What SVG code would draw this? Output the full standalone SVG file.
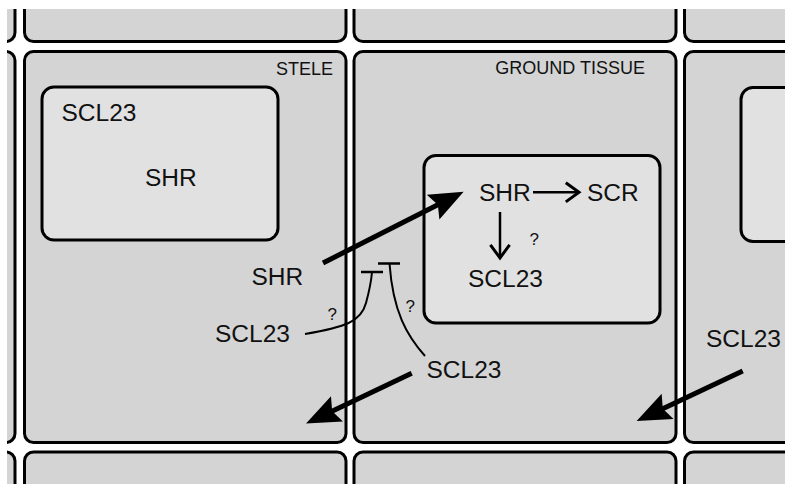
<svg xmlns="http://www.w3.org/2000/svg" width="785" height="487" viewBox="0 0 785 487">
  <style>
    .cell { fill: #d4d4d4; stroke: #000; stroke-width: 3; }
    .box { fill: #e1e1e1; stroke: #000; stroke-width: 3; }
    .lbl { font-family: "Liberation Sans", Arial, sans-serif; font-size: 24.5px; fill: #111; }
    .tissue { font-family: "Liberation Sans", Arial, sans-serif; font-size: 18px; fill: #111; text-anchor: end; }
    .q { font-family: "Liberation Sans", Arial, sans-serif; font-size: 17px; fill: #111; }
    .thick { stroke: #000; stroke-width: 5; fill: none; marker-end: url(#big); }
    .thin { stroke: #000; stroke-width: 2.5; fill: none; marker-end: url(#open); }
    .inhib { stroke: #000; stroke-width: 2; fill: none; }
    .bar { stroke: #000; stroke-width: 2.5; }
  </style>
  <defs>
    <clipPath id="frame"><rect x="7" y="9" width="778" height="475"/></clipPath>
    <marker id="big" markerUnits="userSpaceOnUse" markerWidth="40" markerHeight="30" viewBox="0 0 34 28" refX="22" refY="13" orient="auto">
      <path d="M0,0 L32,13 L0,26 L5,13 Z" fill="#000"/>
    </marker>
    <marker id="open" markerUnits="userSpaceOnUse" markerWidth="20" markerHeight="24" viewBox="-2 -2 16 20" refX="11" refY="8" orient="auto">
      <path d="M0,0 L11,8 L0,16" fill="none" stroke="#000" stroke-width="2.5"/>
    </marker>
  </defs>
  <rect width="785" height="487" fill="#fff"/>
  <g id="cells" clip-path="url(#frame)">
    <rect class="cell" x="-320" y="-300" width="335" height="341.5" rx="9"/>
    <rect class="cell" x="24.5" y="-300" width="321.5" height="341.5" rx="9"/>
    <rect class="cell" x="354" y="-300" width="322" height="341.5" rx="9"/>
    <rect class="cell" x="684.5" y="-300" width="322" height="341.5" rx="9"/>
    <rect class="cell" x="-320" y="51.5" width="335" height="391" rx="9"/>
    <rect id="stele" class="cell" x="24.5" y="51.5" width="321.5" height="391" rx="9"/>
    <rect id="ground-tissue" class="cell" x="354" y="51.5" width="322" height="391" rx="9"/>
    <rect class="cell" x="684.5" y="51.5" width="322" height="391" rx="9"/>
    <rect class="cell" x="-320" y="452" width="335" height="300" rx="9"/>
    <rect class="cell" x="24.5" y="452" width="321.5" height="300" rx="9"/>
    <rect class="cell" x="354" y="452" width="322" height="300" rx="9"/>
    <rect class="cell" x="684.5" y="452" width="322" height="300" rx="9"/>
    <rect id="right-box" class="box" x="741" y="87.5" width="120" height="154" rx="12"/>
  </g>
  <g id="stele-label"><text class="tissue" x="333" y="75">STELE</text></g>
  <g id="ground-label"><text class="tissue" x="645" y="74">GROUND TISSUE</text></g>
  <g id="stele-box">
    <rect class="box" x="42" y="87" width="236" height="153" rx="12"/>
    <text class="lbl" x="61.5" y="121">SCL23</text>
    <text class="lbl" x="145" y="186">SHR</text>
  </g>
  <g id="gt-box">
    <rect class="box" x="424" y="155.5" width="236" height="167.5" rx="12"/>
    <text class="lbl" x="479" y="201">SHR</text>
    <text class="lbl" x="587" y="201">SCR</text>
    <text class="lbl" x="468" y="287">SCL23</text>
    <text class="q" x="529.5" y="245">?</text>
  </g>
  <g id="shr-stele"><text class="lbl" x="251.5" y="285">SHR</text></g>
  <g id="scl23-stele"><text class="lbl" x="215" y="342">SCL23</text></g>
  <g id="scl23-gt"><text class="lbl" x="426.5" y="378">SCL23</text></g>
  <g id="scl23-right"><text class="lbl" x="706" y="347">SCL23</text></g>
  <g id="connectors">
    <line class="thick" x1="323" y1="263" x2="454.1" y2="196.5"/>
    <line class="thick" x1="411.7" y1="373.3" x2="315.7" y2="419"/>
    <line class="thick" x1="742.7" y1="371" x2="646.3" y2="416.4"/>
    <line class="thin" x1="533" y1="192.3" x2="579" y2="192.3"/>
    <line class="thin" x1="500" y1="212" x2="500" y2="258"/>
    <path class="inhib" d="M305,334 C345,327 361,322 366,303 C369,292 371,284 372,272"/>
    <line class="bar" x1="361" y1="272" x2="383" y2="272"/>
    <path class="inhib" d="M425,356 C407,336 393,312 389.5,263.5"/>
    <line class="bar" x1="378" y1="263.5" x2="400" y2="263.5"/>
    <text class="q" x="327.5" y="320">?</text>
    <text class="q" x="405.5" y="312">?</text>
  </g>
</svg>
